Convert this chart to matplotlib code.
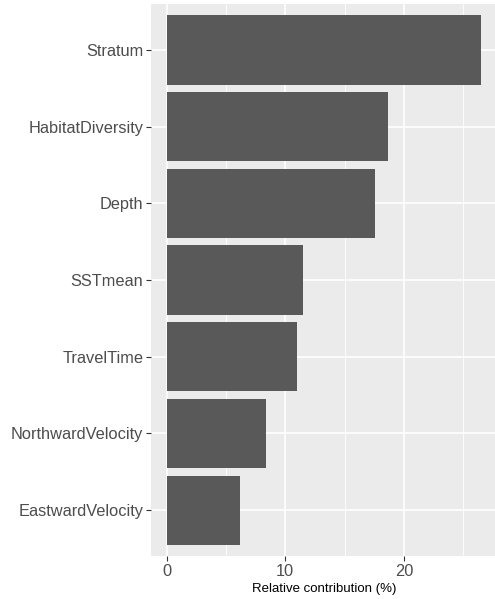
import numpy as np
import matplotlib.pyplot as plt

# variables, from top bar to bottom bar
variables = ['Stratum', 'HabitatDiversity', 'Depth', 'SSTmean',
             'TravelTime', 'NorthwardVelocity', 'EastwardVelocity']
contribution = [26.5, 18.7, 17.6, 11.5, 11.0, 8.35, 6.2]
xticks = [0, 10, 20]
xminor = [5, 15, 25]

plt.rcParams['font.family'] = ['Liberation Sans', 'DejaVu Sans']

fig = plt.figure(figsize=(4.95, 5.99), dpi=100)
ax = fig.add_axes([151 / 495, 1 - 556 / 599, (496.6 - 151) / 495, 552 / 599])
ax.set_facecolor('#EBEBEB')

ypos = np.arange(len(variables))[::-1]
ax.barh(ypos, contribution, height=0.9, color='#595959', zorder=3)

ax.set_xlim(-1.325, 27.825)
ax.set_ylim(-0.6, len(variables) - 0.4)

ax.set_xticks(xticks)
ax.set_xticks(xminor, minor=True)
ax.set_yticks(ypos)
ax.set_yticklabels(variables)

ax.grid(True, which='major', color='white', linewidth=1.2, zorder=1)
ax.grid(True, which='minor', axis='x', color='white', linewidth=0.6, zorder=1)

ax.tick_params(axis='both', which='major', length=3.5, width=0.8,
               color='#333333', labelsize=11.8, labelcolor='#4D4D4D', pad=2)
ax.tick_params(axis='x', which='minor', length=0)
for s in ax.spines.values():
    s.set_visible(False)

ax.set_xlabel('Relative contribution (%)', fontsize=9.5, color='black', labelpad=3)

fig.savefig('out.png', dpi=100)
